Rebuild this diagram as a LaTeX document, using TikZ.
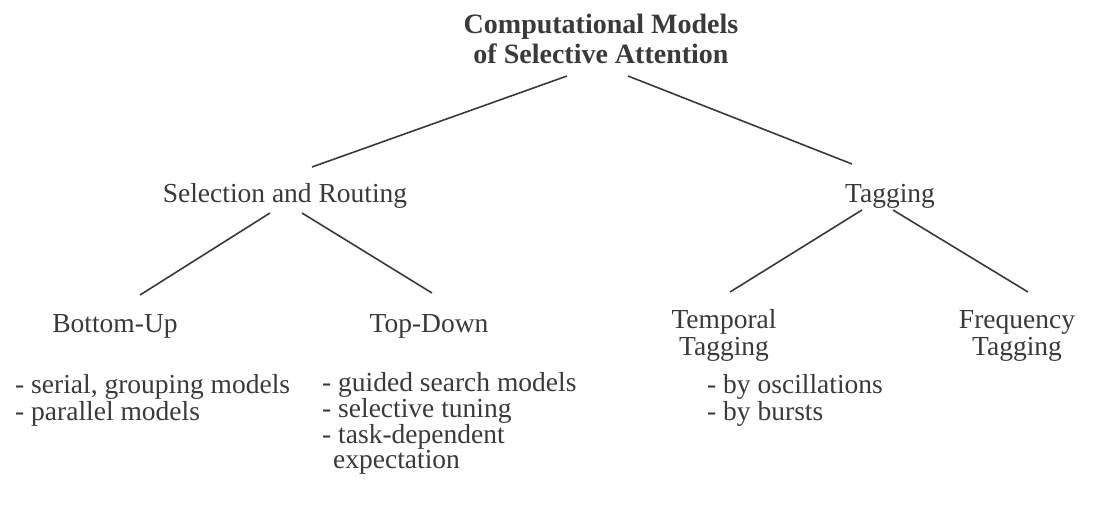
\documentclass[tikz,border=0pt]{standalone}
\usepackage{fontspec}
\setmainfont{Liberation Serif}
\definecolor{ink}{HTML}{3A3A3A}
\begin{document}
\begin{tikzpicture}[x=1pt,y=-1pt,
  lbl/.style={font=\fontsize{27.5}{27}\selectfont, text=ink, inner sep=0pt, anchor=base, align=center},
  lst/.style={font=\fontsize{27.5}{24.5}\selectfont, text=ink, inner sep=0pt, anchor=base west, align=left},
  edge/.style={draw=ink, line width=1.6pt}]
\useasboundingbox[fill=white] (0,0) rectangle (1109,504);
\node[lbl, font=\bfseries\fontsize{28}{30}\selectfont] (root) at (601,63) {Computational Models\\of Selective Attention};
\node[lbl] (sr) at (285,202) {Selection and Routing};
\node[lbl] (tag) at (890,202) {Tagging};
\node[lbl] (bu) at (115,332) {Bottom-Up};
\node[lbl] (td) at (429,332) {Top-Down};
\node[lbl] (tt) at (724,355) {Temporal\\Tagging};
\node[lbl] (ft) at (1017,355) {Frequency\\Tagging};
\node[lst] (bul) at (15,420) {- serial, grouping models\\- parallel models};
\node[lst] (tdl) at (322,468) {- guided search models\\- selective tuning\\- task-dependent\\\hspace*{11pt}expectation};
\node[lst] (ttl) at (707,420) {- by oscillations\\- by bursts};
\coordinate (r1) at (567,76);
\coordinate (r2) at (628,76);
\coordinate (s0) at (312,167);
\coordinate (t0) at (852,164);
\coordinate (s1) at (270,213);
\coordinate (s2) at (302,213);
\coordinate (b0) at (140,295);
\coordinate (d0) at (432,293);
\coordinate (t1) at (862,210);
\coordinate (t2) at (893,210);
\coordinate (p0) at (730,292);
\coordinate (f0) at (1028,292);
\draw[edge] (r1) -- (s0);
\draw[edge] (r2) -- (t0);
\draw[edge] (s1) -- (b0);
\draw[edge] (s2) -- (d0);
\draw[edge] (t1) -- (p0);
\draw[edge] (t2) -- (f0);
\end{tikzpicture}
\end{document}
